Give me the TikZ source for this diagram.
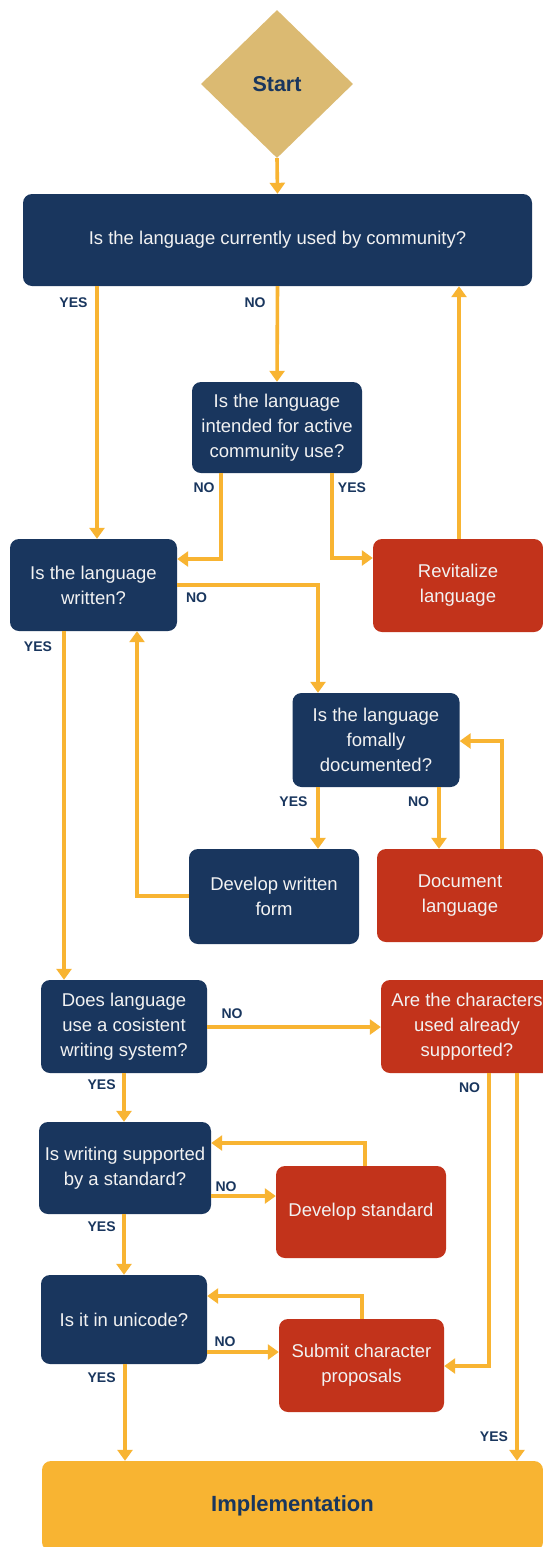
\documentclass[tikz,border=0pt]{standalone}
\usepackage{fontspec}
\setmainfont{Liberation Sans}
\usetikzlibrary{arrows.meta,positioning,calc,shapes.geometric}
\definecolor{navy}{HTML}{19365E}
\definecolor{brick}{HTML}{C2331B}
\definecolor{amber}{HTML}{F8B432}
\definecolor{sand}{HTML}{DBBA72}
\definecolor{snow}{HTML}{F2F2F2}

\tikzset{
  question/.style={
    fill=navy,
    rounded corners=9pt,
    text=snow,
    align=center,
    inner sep=0pt,
    font=\fontsize{18.5}{25}\selectfont
  },
  action/.style={question, fill=brick},
  answer/.style={
    text=navy,
    font=\fontsize{14}{16}\bfseries\selectfont
  },
  flow/.style={
    draw=amber,
    line width=3.6pt,
    line join=miter,
    -{Triangle[length=11pt,width=15pt]}
  }
}

\begin{document}
\begin{tikzpicture}[x=1pt,y=-1pt]
  \path[use as bounding box, fill=white] (0,0) rectangle (543,1547);

  % boxes
  \node[diamond, fill=sand, minimum width=152pt, minimum height=148pt, inner sep=0pt,
        text=navy, font=\fontsize{21.5}{24}\bfseries\selectfont] (start) at (277,84) {\raisebox{-3pt}{Start}};
  \node[question, minimum width=509pt, minimum height=92pt] (used) at (277.5,240)
    {Is the language currently used by community?};
  \node[question, minimum width=170pt, minimum height=91pt] (intended) at (277,427.5)
    {Is the language\\intended for active\\community use?};
  \node[question, minimum width=167pt, minimum height=92pt] (written) at (93.5,585)
    {Is the language\\written?};
  \node[action, minimum width=170pt, minimum height=93pt] (revit) at (458,585.5)
    {Revitalize\\language};
  \node[question, minimum width=167pt, minimum height=94pt] (formal) at (376,740)
    {Is the language\\fomally\\documented?};
  \node[question, minimum width=170pt, minimum height=95pt] (devform) at (274,896.5)
    {Develop written\\form};
  \node[action, minimum width=166pt, minimum height=93pt] (doclang) at (460,895.5)
    {Document\\language};
  \node[question, minimum width=166pt, minimum height=93pt] (consistent) at (124,1026.5)
    {Does language\\use a cosistent\\writing system?};
  \node[action, minimum width=172pt, minimum height=93pt] (chars) at (467,1026.5)
    {Are the characters\\used already\\supported?};
  \node[question, minimum width=172pt, minimum height=92pt] (standard) at (125,1168)
    {Is writing supported\\by a standard?};
  \node[action, minimum width=170pt, minimum height=92pt] (devstd) at (361,1212)
    {Develop standard};
  \node[question, minimum width=166pt, minimum height=89pt] (unicode) at (124,1319.5)
    {Is it in unicode?};
  \node[action, minimum width=165pt, minimum height=93pt] (submit) at (361.5,1365.5)
    {Submit character\\proposals};
  \node[question, fill=amber, text=navy, minimum width=501pt, minimum height=90pt,
        font=\fontsize{22}{24}\bfseries\selectfont] (impl) at (292.5,1506)
    {Implementation};

  % connectors
  \draw[flow] (start.south) -- (used.north);
  \draw[flow] (used.south) -- (intended.north);
  \draw[flow] (used.south -| 97,0) -- (written.north -| 97,0);
  \draw[flow] (revit.north -| 459,0) -- (used.south -| 459,0);
  \draw[flow] (intended.south -| 221,0) |- (written.east |- 0,559);
  \draw[flow] (intended.south -| 332,0) |- (revit.west |- 0,558);
  \draw[flow] (written.east |- 0,585) -| (formal.north -| 318,0);
  \draw[flow] (written.south -| 64,0) -- (consistent.north -| 64,0);
  \draw[flow] (devform.west |- 0,896) -| (written.south -| 137,0);
  \draw[flow] (formal.south -| 318,0) -- (devform.north -| 318,0);
  \draw[flow] (formal.south -| 439,0) -- (doclang.north -| 439,0);
  \draw[flow] (doclang.north -| 502,0) |- (formal.east |- 0,741);
  \draw[flow] (consistent.east |- 0,1027) -- (chars.west |- 0,1027);
  \draw[flow] (consistent.south -| 124,0) -- (standard.north -| 124,0);
  \draw[flow] (standard.east |- 0,1196) -- (devstd.west |- 0,1196);
  \draw[flow] (devstd.north -| 365,0) |- (standard.east |- 0,1143);
  \draw[flow] (standard.south -| 124,0) -- (unicode.north -| 124,0);
  \draw[flow] (unicode.east |- 0,1352) -- (submit.west |- 0,1352);
  \draw[flow] (submit.north -| 362,0) |- (unicode.east |- 0,1296);
  \draw[flow] (chars.south -| 489,0) |- (submit.east |- 0,1366);
  \draw[flow] (chars.south -| 517,0) -- (impl.north -| 517,0);
  \draw[flow] (unicode.south -| 125,0) -- (impl.north -| 125,0);

  % yes / no labels
  \node[answer] (yUsed) at (73.5,303) {YES};
  \node[answer] (nUsed) at (255,303) {NO};
  \node[answer] (nIntended) at (204,488) {NO};
  \node[answer] (yIntended) at (352,488) {YES};
  \node[answer] (nWritten) at (196.5,598) {NO};
  \node[answer] (yWritten) at (38,647) {YES};
  \node[answer] (yFormal) at (293.5,802) {YES};
  \node[answer] (nFormal) at (418.5,802) {NO};
  \node[answer] (nConsistent) at (232,1014) {NO};
  \node[answer] (yConsistent) at (101.6,1085) {YES};
  \node[answer] (nChars) at (469.5,1088) {NO};
  \node[answer] (nStandard) at (226,1187) {NO};
  \node[answer] (yStandard) at (101.6,1227) {YES};
  \node[answer] (nUnicode) at (225,1342) {NO};
  \node[answer] (yUnicode) at (101.6,1378) {YES};
  \node[answer] (yChars) at (494,1437) {YES};
\end{tikzpicture}
\end{document}
